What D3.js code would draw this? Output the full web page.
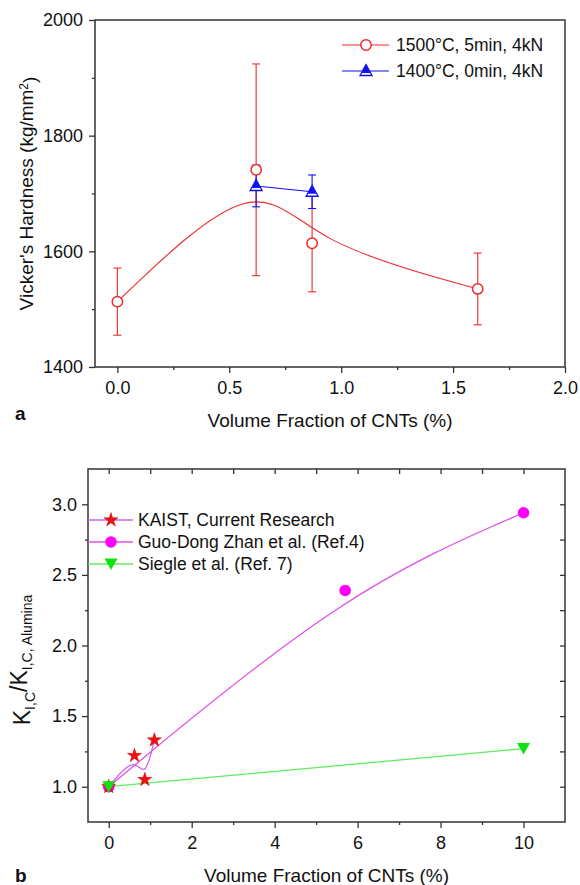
<!DOCTYPE html>
<html><head><meta charset="utf-8">
<script src="https://cdn.jsdelivr.net/npm/d3@7"></script>
<style>
body{margin:0;background:#fff;}
text{font-family:"Liberation Sans",Arial,sans-serif;fill:#111;}
</style></head>
<body>
<script>
// ---------- Data: panel a ----------
const volA1 = [0, 0.62, 0.87, 1.61];
const hardA1 = [1513, 1741, 1614, 1535];
const errA1 = [58, 183, 84, 62];
const volA2 = [0.62, 0.87];
const hardA2 = [1713, 1703];
const errA2 = [36, 29];
const seriesA = ["1500°C, 5min, 4kN", "1400°C, 0min, 4kN"];
const xTicksA = [0, 0.5, 1.0, 1.5, 2.0];
const yTicksA = [1400, 1600, 1800, 2000];

// ---------- Data: panel b ----------
const kaistX = [0, 0.62, 0.87, 1.1];
const kaistY = [1.0, 1.22, 1.05, 1.33];
const zhanX = [0, 5.7, 10];
const zhanY = [1.0, 2.39, 2.94];
const siegleX = [0, 10];
const siegleY = [1.0, 1.27];
const seriesB = ["KAIST, Current Research", "Guo-Dong Zhan et al. (Ref.4)", "Siegle et al. (Ref. 7)"];
const xTicksB = [0, 2, 4, 6, 8, 10];
const yTicksB = [1.0, 1.5, 2.0, 2.5, 3.0];

const RED = "#ee2a2a", BLUE = "#1010f0", MAG = "#ff00ff", MAGL = "#e050e8", GREEN = "#10e010", GREENL = "#60ee60";

const svg = d3.select("body").append("svg").attr("width", 580).attr("height", 885);

function styleAxis(g, fs) {
  g.select(".domain").remove();
  g.selectAll("line").attr("stroke", "#333").attr("stroke-width", 1.3);
  g.selectAll("text").style("font-size", fs + "px").attr("fill", "#111");
}

// ================= Panel a =================
const A = {l: 95, r: 565, t: 20, b: 367};
const xA = d3.scaleLinear().domain([-0.1, 2.0]).range([A.l, A.r]);
const yA = d3.scaleLinear().domain([1400, 2000]).range([A.b, A.t]);
const gA = svg.append("g");

gA.append("g").attr("transform", `translate(0,${A.b})`)
  .call(d3.axisBottom(xA).tickValues(xTicksA).tickFormat(d3.format(".1f")).tickSize(6).tickPadding(8))
  .call(g => styleAxis(g, 18));
gA.append("g").attr("transform", `translate(0,${A.b})`)
  .call(d3.axisBottom(xA).tickValues([0.25, 0.75, 1.25, 1.75]).tickFormat("").tickSize(3))
  .call(g => styleAxis(g, 18));
gA.append("g").attr("transform", `translate(${A.l},0)`)
  .call(d3.axisLeft(yA).tickValues(yTicksA).tickFormat(d3.format("d")).tickSize(6).tickPadding(6))
  .call(g => styleAxis(g, 18));
gA.append("g").attr("transform", `translate(${A.l},0)`)
  .call(d3.axisLeft(yA).tickValues([1500, 1700, 1900]).tickFormat("").tickSize(3))
  .call(g => styleAxis(g, 18));
gA.append("rect").attr("x", A.l).attr("y", A.t).attr("width", A.r - A.l).attr("height", A.b - A.t)
  .attr("fill", "none").attr("stroke", "#333").attr("stroke-width", 1.5);

const dA1 = volA1.map((v, i) => ({x: v, y: hardA1[i], e: errA1[i]}));
const dA2 = volA2.map((v, i) => ({x: v, y: hardA2[i], e: errA2[i]}));

// red B-spline
gA.append("path").datum(dA1)
  .attr("d", d3.line().x(d => xA(d.x)).y(d => yA(d.y)).curve(d3.curveBasis))
  .attr("fill", "none").attr("stroke", RED).attr("stroke-width", 1.1);

function errBars(g, data, xs, ys, color, cap) {
  const eg = g.append("g").attr("stroke", color).attr("stroke-width", 1.1);
  data.forEach(d => {
    const x = xs(d.x);
    eg.append("line").attr("x1", x).attr("x2", x).attr("y1", ys(d.y + d.e)).attr("y2", ys(d.y - d.e));
    [d.y + d.e, d.y - d.e].forEach(v => eg.append("line").attr("x1", x - cap).attr("x2", x + cap).attr("y1", ys(v)).attr("y2", ys(v)));
  });
}
errBars(gA, dA1, xA, yA, RED, 4);

// blue line + errors
gA.append("path").datum(dA2)
  .attr("d", d3.line().x(d => xA(d.x)).y(d => yA(d.y)))
  .attr("fill", "none").attr("stroke", BLUE).attr("stroke-width", 1.1);
errBars(gA, dA2, xA, yA, BLUE, 4);

function circleMark(g, x, y) {
  g.append("circle").attr("cx", x).attr("cy", y).attr("r", 5.2).attr("fill", "#fff").attr("stroke", RED).attr("stroke-width", 1.5);
}
function triUp(g, x, y) {
  const h = 11, w = 6;
  g.append("path").attr("d", `M${x},${y - h / 2 - 1}L${x + w},${y + h / 2 - 1}L${x - w},${y + h / 2 - 1}Z`)
    .attr("fill", "#fff").attr("stroke", BLUE).attr("stroke-width", 1.3);
  g.append("path").attr("d", `M${x},${y - h / 2 - 1}L${x + 4.3},${y + 2}L${x - 4.3},${y + 2}Z`).attr("fill", BLUE);
}
dA1.forEach(d => circleMark(gA, xA(d.x), yA(d.y)));
dA2.forEach(d => triUp(gA, xA(d.x), yA(d.y)));

// legend a
const legA = gA.append("g");
[[RED, 45], [BLUE, 71]].forEach(([c, y], i) => {
  legA.append("line").attr("x1", 342).attr("x2", 389).attr("y1", y).attr("y2", y).attr("stroke", c).attr("stroke-width", 1.1);
  if (i === 0) circleMark(legA, 366, y); else triUp(legA, 366, y);
  legA.append("text").attr("x", 396).attr("y", y).attr("dy", "0.35em").style("font-size", "17.5px").text(seriesA[i]);
});

// titles a
gA.append("text").attr("x", (A.l + A.r) / 2).attr("y", 427).attr("text-anchor", "middle").style("font-size", "19px")
  .text("Volume Fraction of CNTs (%)");
const ytA = gA.append("text").attr("transform", `translate(33,${(A.t + A.b) / 2}) rotate(-90)`).attr("text-anchor", "middle").style("font-size", "19px");
ytA.append("tspan").text("Vicker's Hardness (kg/mm");
ytA.append("tspan").attr("dy", "-0.45em").style("font-size", "12px").text("2");
ytA.append("tspan").attr("dy", "0.45em").text(")");
gA.append("text").attr("x", 15).attr("y", 420).style("font-size", "19px").style("font-weight", "bold").text("a");

// ================= Panel b =================
const B = {l: 88, r: 565, t: 469, b: 822};
const xB = d3.scaleLinear().domain([-0.5, 11]).range([B.l, B.r]);
const yB = d3.scaleLinear().domain([0.75, 3.25]).range([B.b, B.t]);
const gB = svg.append("g");

gB.append("g").attr("transform", `translate(0,${B.b})`)
  .call(d3.axisBottom(xB).tickValues(xTicksB).tickFormat(d3.format("d")).tickSize(6).tickPadding(8))
  .call(g => styleAxis(g, 18));
gB.append("g").attr("transform", `translate(0,${B.b})`)
  .call(d3.axisBottom(xB).tickValues([1, 3, 5, 7, 9]).tickFormat("").tickSize(3))
  .call(g => styleAxis(g, 18));
gB.append("g").attr("transform", `translate(${B.l},0)`)
  .call(d3.axisLeft(yB).tickValues(yTicksB).tickFormat(d3.format(".1f")).tickSize(6).tickPadding(5))
  .call(g => styleAxis(g, 18));
gB.append("g").attr("transform", `translate(${B.l},0)`)
  .call(d3.axisLeft(yB).tickValues([1.25, 1.75, 2.25, 2.75]).tickFormat("").tickSize(3))
  .call(g => styleAxis(g, 18));
gB.append("g").attr("transform", `translate(0,${B.t})`)
  .call(d3.axisTop(xB).tickValues(d3.range(0, 11, 1)).tickFormat("").tickSize(-5))
  .call(g => styleAxis(g, 18));
gB.append("g").attr("transform", `translate(${B.r},0)`)
  .call(d3.axisRight(yB).tickValues([1.0, 1.25, 1.5, 1.75, 2.0, 2.25, 2.5, 2.75, 3.0]).tickFormat("").tickSize(-5))
  .call(g => styleAxis(g, 18));
gB.append("rect").attr("x", B.l).attr("y", B.t).attr("width", B.r - B.l).attr("height", B.b - B.t)
  .attr("fill", "none").attr("stroke", "#333").attr("stroke-width", 1.5);

const dK = kaistX.map((v, i) => ({x: v, y: kaistY[i]}));
const dZ = zhanX.map((v, i) => ({x: v, y: zhanY[i]}));
const dS = siegleX.map((v, i) => ({x: v, y: siegleY[i]}));
const lineB = d3.line().x(d => xB(d.x)).y(d => yB(d.y));

gB.append("path").datum(dS).attr("d", lineB).attr("fill", "none").attr("stroke", GREENL).attr("stroke-width", 1.3);
gB.append("path").datum(dZ).attr("d", lineB.curve(d3.curveBasis)).attr("fill", "none").attr("stroke", MAGL).attr("stroke-width", 1.3);
gB.append("path").datum(dK).attr("d", lineB.curve(d3.curveBasis)).attr("fill", "none").attr("stroke", "#d060f0").attr("stroke-width", 1.3);

const star = d3.symbol().type(d3.symbolStar).size(62);
function starMark(g, x, y) { g.append("path").attr("d", star()).attr("transform", `translate(${x},${y})`).attr("fill", "#f01010").attr("stroke", "#c01010").attr("stroke-width", 0.5); }
function dotMark(g, x, y) { g.append("circle").attr("cx", x).attr("cy", y).attr("r", 5.8).attr("fill", MAG); }
function triDown(g, x, y) {
  g.append("path").attr("d", `M${x - 6.5},${y - 5.5}L${x + 6.5},${y - 5.5}L${x},${y + 6}Z`).attr("fill", GREEN);
}
dZ.forEach(d => dotMark(gB, xB(d.x), yB(d.y)));
dK.forEach(d => starMark(gB, xB(d.x), yB(d.y)));
dS.forEach(d => triDown(gB, xB(d.x), yB(d.y)));

// legend b
const legB = gB.append("g");
const legCols = ["#d060f0", MAGL, GREENL];
[520, 542, 564].forEach((y, i) => {
  legB.append("line").attr("x1", B.l).attr("x2", 133).attr("y1", y).attr("y2", y).attr("stroke", legCols[i]).attr("stroke-width", 1.3);
  if (i === 0) starMark(legB, 111, y); else if (i === 1) dotMark(legB, 111, y); else triDown(legB, 111, y);
  legB.append("text").attr("x", 138).attr("y", y).attr("dy", "0.35em").style("font-size", "17.5px").text(seriesB[i]);
});

// titles b
gB.append("text").attr("x", (B.l + B.r) / 2).attr("y", 882).attr("text-anchor", "middle").style("font-size", "19px")
  .text("Volume Fraction of CNTs (%)");
const ytB = gB.append("text").attr("transform", `translate(30,660) rotate(-90)`).attr("text-anchor", "middle").style("font-size", "23px");
ytB.append("tspan").text("K");
ytB.append("tspan").attr("dy", "0.35em").style("font-size", "14px").text("I,C");
ytB.append("tspan").attr("dy", "-0.35em").text("/K");
ytB.append("tspan").attr("dy", "0.35em").style("font-size", "14px").text("I,C, Alumina");
gB.append("text").attr("x", 15).attr("y", 882).style("font-size", "19px").style("font-weight", "bold").text("b");
</script>
</body></html>
